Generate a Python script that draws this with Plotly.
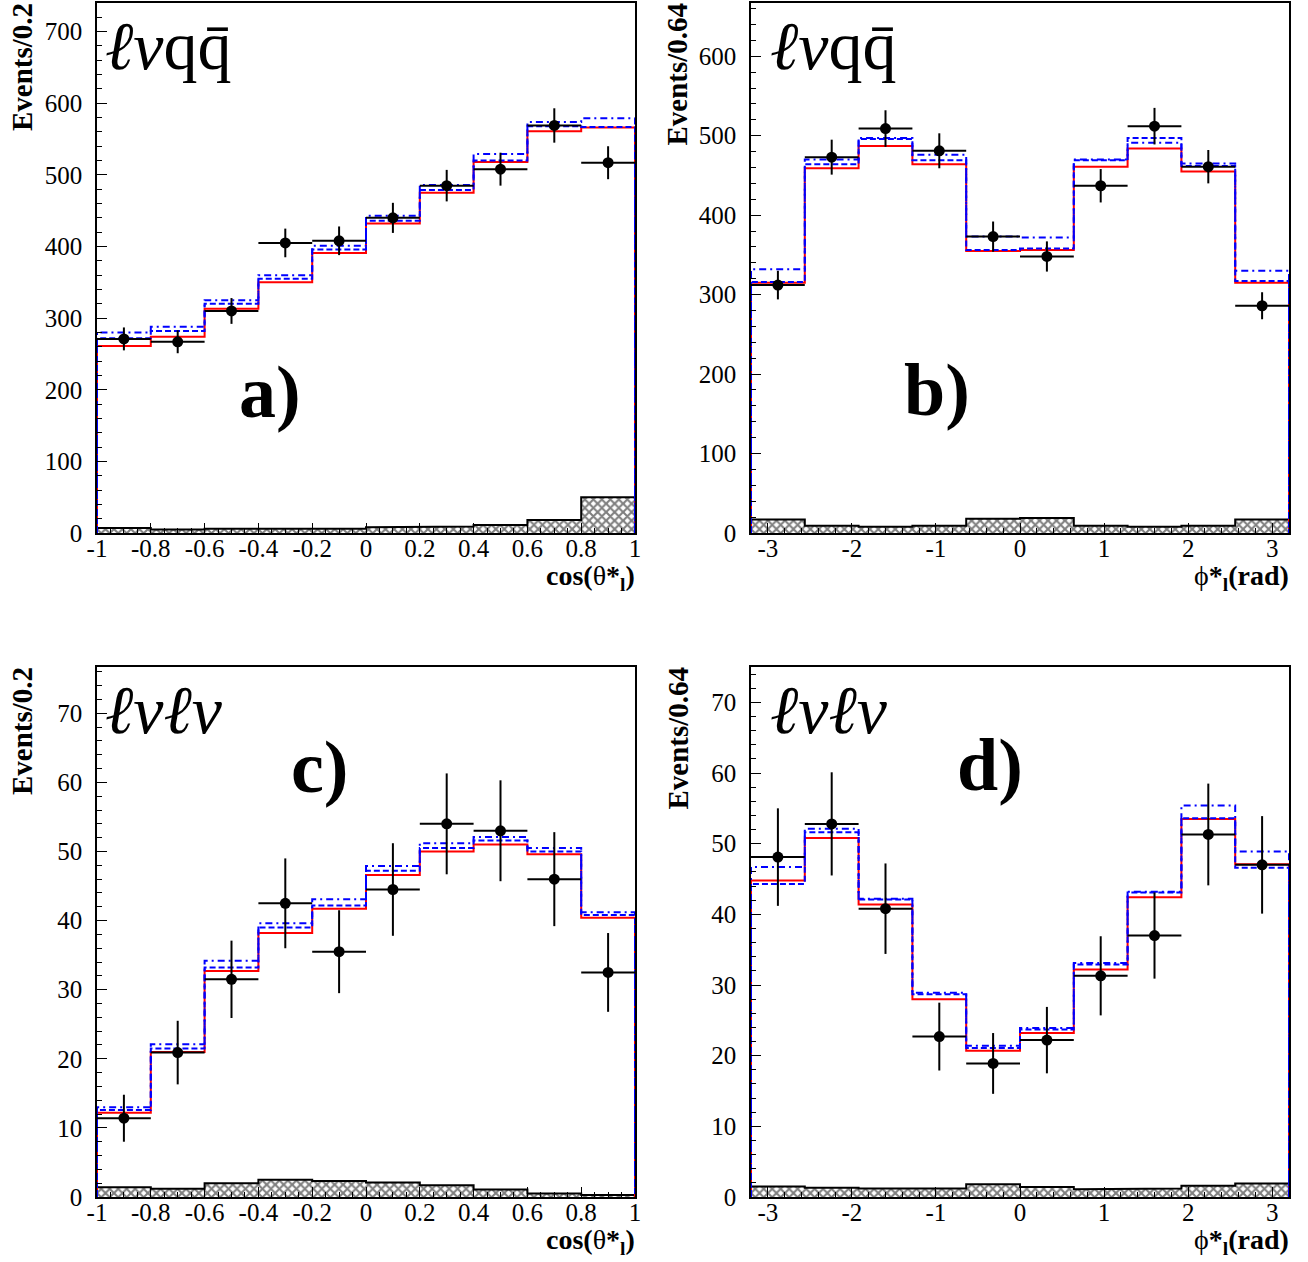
import plotly.graph_objects as go

# ---------------- data ----------------
cos_edges = [-1.0, -0.8, -0.6, -0.4, -0.2, 0.0, 0.2, 0.4, 0.6, 0.8, 1.0]
phi_edges = [-3.2, -2.56, -1.92, -1.28, -0.64, 0.0, 0.64, 1.28, 1.92, 2.56, 3.2]

cos_tickvals = [-1, -0.8, -0.6, -0.4, -0.2, 0, 0.2, 0.4, 0.6, 0.8, 1]
cos_ticktext = ["-1", "-0.8", "-0.6", "-0.4", "-0.2", "0", "0.2", "0.4", "0.6", "0.8", "1"]
phi_tickvals = [-3, -2, -1, 0, 1, 2, 3]
phi_ticktext = ["-3", "-2", "-1", "0", "1", "2", "3"]

# panel a: l nu q qbar, cos(theta*_l)
a_red = [261, 274, 313, 350, 391, 432, 475, 518, 561, 566]
a_dash = [272, 282, 320, 355, 396, 436, 479, 520, 568, 567]
a_dashdot = [280, 288, 325, 360, 401, 443, 486, 529, 574, 579]
a_data = [271, 267, 310, 405, 408, 440, 485, 508, 569, 517]
a_err = [16, 16, 18, 20, 20, 21, 22, 23, 24, 23]
a_bkg = [7, 5, 6, 6, 6, 8, 9, 11, 18, 50]

# panel b: l nu q qbar, phi*_l
b_red = [315, 459, 487, 464, 355, 356, 461, 484, 455, 315]
b_dash = [316, 464, 496, 469, 356, 358, 469, 497, 462, 317]
b_dashdot = [332, 470, 497, 476, 373, 372, 470, 491, 465, 330]
b_data = [312, 473, 509, 481, 373, 348, 437, 512, 461, 286]
b_err = [18, 22, 23, 22, 19, 19, 21, 23, 21, 17]
b_bkg = [17, 9, 8, 9, 18, 19, 9, 8, 9, 17]

# panel c: l nu l nu, cos(theta*_l)
c_red = [12.2, 21.0, 32.7, 38.2, 41.7, 46.6, 50.0, 51.0, 49.6, 40.4]
c_dash = [12.6, 21.5, 33.2, 39.0, 42.2, 47.2, 50.5, 51.6, 50.0, 40.8]
c_dashdot = [13.0, 22.1, 34.2, 39.6, 43.1, 47.9, 51.2, 52.1, 50.5, 41.2]
c_data = [11.4, 20.9, 31.5, 42.5, 35.5, 44.5, 54.0, 53.0, 46.0, 32.5]
c_err = [3.4, 4.6, 5.6, 6.5, 6.0, 6.7, 7.3, 7.3, 6.8, 5.7]
c_bkg = [1.4, 1.2, 2.0, 2.5, 2.3, 2.1, 1.7, 1.1, 0.5, 0.3]

# panel d: l nu l nu, phi*_l
d_red = [44.8, 50.8, 41.4, 28.0, 20.7, 23.2, 32.2, 42.4, 53.5, 47.1]
d_dash = [44.3, 51.6, 42.1, 28.7, 21.1, 23.7, 32.9, 43.1, 53.6, 46.6]
d_dashdot = [46.7, 52.1, 42.2, 28.9, 21.4, 23.9, 33.1, 43.2, 55.4, 48.9]
d_data = [48.1, 52.8, 40.8, 22.7, 18.9, 22.2, 31.3, 37.0, 51.3, 47.0]
d_err = [6.9, 7.3, 6.4, 4.8, 4.3, 4.7, 5.6, 6.1, 7.2, 6.9]
d_bkg = [1.5, 1.3, 1.2, 1.2, 1.8, 1.4, 1.1, 1.2, 1.6, 1.9]

# ---------------- figure ----------------
W, H = 1308, 1262
SERIF = "Liberation Serif"


def step(edges, vals, close=True):
    xs, ys = [], []
    if close:
        xs.append(edges[0]); ys.append(0)
    for i, v in enumerate(vals):
        xs += [edges[i], edges[i + 1]]
        ys += [v, v]
    if close:
        xs.append(edges[-1]); ys.append(0)
    return xs, ys


fig = go.Figure()

panels = [
    dict(edges=cos_edges, red=a_red, dash=a_dash, dd=a_dashdot, data=a_data, err=a_err, bkg=a_bkg, n=""),
    dict(edges=phi_edges, red=b_red, dash=b_dash, dd=b_dashdot, data=b_data, err=b_err, bkg=b_bkg, n="2"),
    dict(edges=cos_edges, red=c_red, dash=c_dash, dd=c_dashdot, data=c_data, err=c_err, bkg=c_bkg, n="3"),
    dict(edges=phi_edges, red=d_red, dash=d_dash, dd=d_dashdot, data=d_data, err=d_err, bkg=d_bkg, n="4"),
]

for p in panels:
    e = p["edges"]
    xa, ya = "x" + p["n"], "y" + p["n"]
    centers = [(e[i] + e[i + 1]) / 2 for i in range(len(e) - 1)]
    widths = [e[i + 1] - e[i] for i in range(len(e) - 1)]
    # hatched background
    fig.add_trace(go.Bar(x=centers, y=p["bkg"], width=widths, xaxis=xa, yaxis=ya,
                         marker=dict(color="white", line=dict(width=0),
                                     pattern=dict(shape="x", fgcolor="black", bgcolor="white",
                                                  size=6, solidity=0.58)),
                         showlegend=False, hoverinfo="skip"))
    bx, by = step(e, p["bkg"])
    fig.add_trace(go.Scatter(x=bx, y=by, mode="lines", xaxis=xa, yaxis=ya,
                             line=dict(color="black", width=2), showlegend=False))
    # MC histograms
    for key, col, dash in [("red", "rgb(255,0,0)", "solid"),
                           ("dash", "rgb(0,0,255)", "6px,3px"),
                           ("dd", "rgb(0,0,255)", "7px,4px,2px,4px")]:
        sx, sy = step(e, p[key])
        fig.add_trace(go.Scatter(x=sx, y=sy, mode="lines", xaxis=xa, yaxis=ya,
                                 line=dict(color=col, width=2, dash=dash), showlegend=False))
    # data points
    fig.add_trace(go.Scatter(x=centers, y=p["data"], mode="markers", xaxis=xa, yaxis=ya,
                             marker=dict(color="black", size=11, symbol="circle"),
                             error_y=dict(type="data", array=p["err"], color="black", thickness=2, width=0),
                             error_x=dict(type="data", array=[w / 2 for w in widths], color="black",
                                          thickness=2, width=0),
                             showlegend=False))


def xd(x0, x1):
    return [x0 / W, x1 / W]


def yd(top, bottom):
    return [1 - bottom / H, 1 - top / H]


tickfont = dict(family=SERIF, size=25, color="black")


def xaxis(dom, rng, tv, tt, minor_dtick, anchor):
    return dict(domain=dom, range=rng, tickvals=tv, ticktext=tt, ticks="inside", ticklen=10,
                tickwidth=1, tickcolor="black", showline=True, mirror=True, linecolor="black",
                linewidth=1.5, showgrid=False, zeroline=False, tickfont=tickfont, anchor=anchor,
                automargin=False, ticklabelstandoff=-8,
                minor=dict(dtick=minor_dtick, ticks="inside", ticklen=5, tickcolor="black",
                           showgrid=False, tick0=0))


def yaxis(dom, rng, dtick, minor_dtick, anchor):
    return dict(domain=dom, range=rng, dtick=dtick, tick0=0, ticks="inside", ticklen=10,
                tickwidth=1, tickcolor="black", showline=True, mirror=True, linecolor="black",
                linewidth=1.5, showgrid=False, zeroline=False, tickfont=tickfont, anchor=anchor,
                automargin=False, ticklabelstandoff=8,
                minor=dict(dtick=minor_dtick, ticks="inside", ticklen=5, tickcolor="black",
                           showgrid=False, tick0=0))


L = (97, 635)
R = (751, 1289)
T = (3, 533)
B = (667, 1197)

fig.update_layout(
    width=W, height=H, margin=dict(l=0, r=0, t=0, b=0, autoexpand=False),
    font=dict(family=SERIF, color="black"),
    paper_bgcolor="white", plot_bgcolor="white", bargap=0, barmode="overlay",
    xaxis=xaxis(xd(*L), [-1, 1], cos_tickvals, cos_ticktext, 0.05, "y"),
    yaxis=yaxis(yd(*T), [0, 740], 100, 20, "x"),
    xaxis2=xaxis(xd(*R), [-3.2, 3.2], phi_tickvals, phi_ticktext, 0.2, "y2"),
    yaxis2=yaxis(yd(*T), [0, 667], 100, 20, "x2"),
    xaxis3=xaxis(xd(*L), [-1, 1], cos_tickvals, cos_ticktext, 0.05, "y3"),
    yaxis3=yaxis(yd(*B), [0, 76.7], 10, 2, "x3"),
    xaxis4=xaxis(xd(*R), [-3.2, 3.2], phi_tickvals, phi_ticktext, 0.2, "y4"),
    yaxis4=yaxis(yd(*B), [0, 75], 10, 2, "x4"),
)

ann = []


def px_ann(text, x, y, size, xanchor="center", yanchor="middle", angle=0):
    ann.append(dict(text=text, x=x / W, y=1 - y / H, xref="paper", yref="paper",
                    xanchor=xanchor, yanchor=yanchor, textangle=angle, showarrow=False,
                    font=dict(family=SERIF, size=size, color="black")))


# axis titles
px_ann("<b>Events/0.2</b>", 22, 1, 29, yanchor="top", angle=-90)
px_ann("<b>Events/0.64</b>", 677, 1, 29, yanchor="top", angle=-90)
px_ann("<b>Events/0.2</b>", 22, 665, 29, yanchor="top", angle=-90)
px_ann("<b>Events/0.64</b>", 677, 665, 29, yanchor="top", angle=-90)
px_ann("<b>cos(</b>θ<b>*<sub>l</sub>)</b>", 637, 577, 28, xanchor="right")
px_ann("<b>cos(</b>θ<b>*<sub>l</sub>)</b>", 637, 1241, 28, xanchor="right")
px_ann("ϕ<b>*<sub>l</sub>(rad)</b>", 1291, 577, 28, xanchor="right")
px_ann("ϕ<b>*<sub>l</sub>(rad)</b>", 1291, 1241, 28, xanchor="right")

# channel labels
px_ann("<i>ℓν</i>qq\u0304", 103, 46, 68, xanchor="left")
px_ann("<i>ℓν</i>qq\u0304", 768, 46, 68, xanchor="left")
px_ann("<i>ℓνℓν</i>", 103, 710, 68, xanchor="left")
px_ann("<i>ℓνℓν</i>", 768, 710, 68, xanchor="left")

# panel letters
px_ann("<b>a)</b>", 270, 392, 74)
px_ann("<b>b)</b>", 937, 390, 74)
px_ann("<b>c)</b>", 320, 767, 74)
px_ann("<b>d)</b>", 990, 765, 74)

fig.update_layout(annotations=ann)

fig.write_html("out.html", config={"displayModeBar": False},
               post_script="document.body.style.margin='0px';document.body.style.overflow='hidden';")
